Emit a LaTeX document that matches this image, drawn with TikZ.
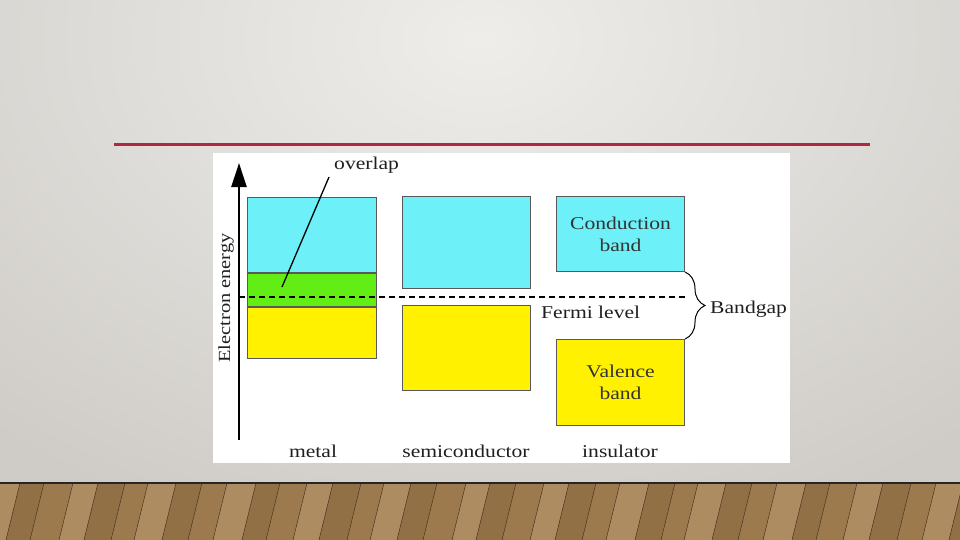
\documentclass[tikz,border=0pt]{standalone}
\usepackage{fontspec}
\setmainfont{Liberation Serif}[FakeStretch=1.2]
\usepackage{xcolor}
\usepackage{tikz}
\usetikzlibrary{positioning,arrows.meta,decorations.pathreplacing,calc}

\definecolor{bandcyan}{HTML}{6DF0F8}
\definecolor{bandgreen}{HTML}{62EE14}
\definecolor{bandyellow}{HTML}{FFF100}
\definecolor{slidered}{HTML}{B02840}
\definecolor{slidelight}{HTML}{EEEDEA}
\definecolor{slidedark}{HTML}{CFCCC7}
\definecolor{wood0}{HTML}{9C7A4E}
\definecolor{wood1}{HTML}{AD8C62}
\definecolor{wood2}{HTML}{917045}
\definecolor{woodgrain}{HTML}{4A3320}

\begin{document}
\begin{tikzpicture}[x=1pt,y=-1pt,
	band/.style={draw=black!65, line width=1pt, inner sep=0pt, anchor=north west},
	lbl/.style={font=\fontsize{18}{22}\selectfont, text=black!88, inner sep=0pt},
	bandtext/.style={font=\fontsize{18}{22}\selectfont, text=black!80, align=center}]
\useasboundingbox (0,0) rectangle (960,540);
% slide and floor
\begin{scope}
	\clip (0,0) rectangle (960,484);
	\shade[inner color=slidelight, outer color=slidedark] (-260,-480) rectangle (1220,560);
\end{scope}
\fill[wood0] (0,483) rectangle (960,540);
\foreach \x/\w [count=\i] in {-20/26,6/24,30/29,59/25,84/27,111/23,134/28,162/26,188/25,213/29,242/24,266/27,293/26,319/28,347/23,370/27,397/26,423/29,452/24,476/26,502/28,530/25,555/27,582/24,606/29,635/26,661/23,684/28,712/26,738/25,763/29,792/24,816/27,843/26,869/28,897/25,922/27,949/26}{
	\pgfmathtruncatemacro\k{mod(\i*7,3)}
	\fill[wood\k] (\x,540) -- (\x+14,483) -- (\x+14+\w,483) -- (\x+\w,540) -- cycle;
	\draw[woodgrain, line width=0.5pt] (\x,540) -- (\x+14,483);
}
\draw[black!85, line width=1.5pt] (0,483) -- (960,483);
\draw[slidered, line width=3pt] (114,145) -- (870,145);
\fill[white] (213,153) rectangle (790,463);
% energy axis
\coordinate (axbot) at (239,440);
\coordinate (axtop) at (239,163);
\draw[line width=2.5pt, -{Triangle[length=24pt,width=15pt]}] (axbot) -- (axtop);
\node[lbl, font=\fontsize{17}{20}\selectfont, rotate=90] (axlabel) at (226,298) {Electron energy};
% metal
\node[band, fill=bandcyan, minimum width=129pt, minimum height=75pt] (metcb) at (247,197) {};
\node[band, fill=bandgreen, minimum width=129pt, minimum height=33pt, below=0pt of metcb] (metgb) {};
\node[band, fill=bandyellow, minimum width=129pt, minimum height=51pt, below=0pt of metgb] (metvb) {};
% semiconductor
\node[band, fill=bandcyan, minimum width=128pt, minimum height=92pt] (semcb) at (402,196) {};
\node[band, fill=bandyellow, minimum width=128pt, minimum height=85pt] (semvb) at (402,305) {};
% insulator
\node[band, fill=bandcyan, minimum width=128pt, minimum height=75pt, bandtext] (inscb) at (556,196) {Conduction\\band};
\node[band, fill=bandyellow, minimum width=128pt, minimum height=86pt, bandtext] (insvb) at (556,339) {Valence\\band};
% fermi level
\coordinate (fermiR) at (686,297);
\draw[line width=2.5pt, dash pattern=on 6pt off 4pt] (axbot |- fermiR) -- (fermiR);
\node[lbl, anchor=base west] (fermi) at (541,318) {Fermi level};
% bandgap
\draw[decorate, decoration={brace, amplitude=20pt}, line width=1pt] (inscb.south east) -- (insvb.north east);
\node[lbl, anchor=base west] (gap) at (710,313) {Bandgap};
% overlap
\node[lbl, anchor=base west] (ovtxt) at (334,170) {overlap};
\coordinate (ovtip) at (282,287);
\draw[line width=1.3pt] (ovtxt.south west) ++(-5,3) -- (ovtip);
% material names
\node[lbl, anchor=base] (metal) at (313,457) {metal};
\node[lbl, anchor=base] (semi) at (466,457) {semiconductor};
\node[lbl, anchor=base] (ins) at (620,457) {insulator};
\end{tikzpicture}
\end{document}
